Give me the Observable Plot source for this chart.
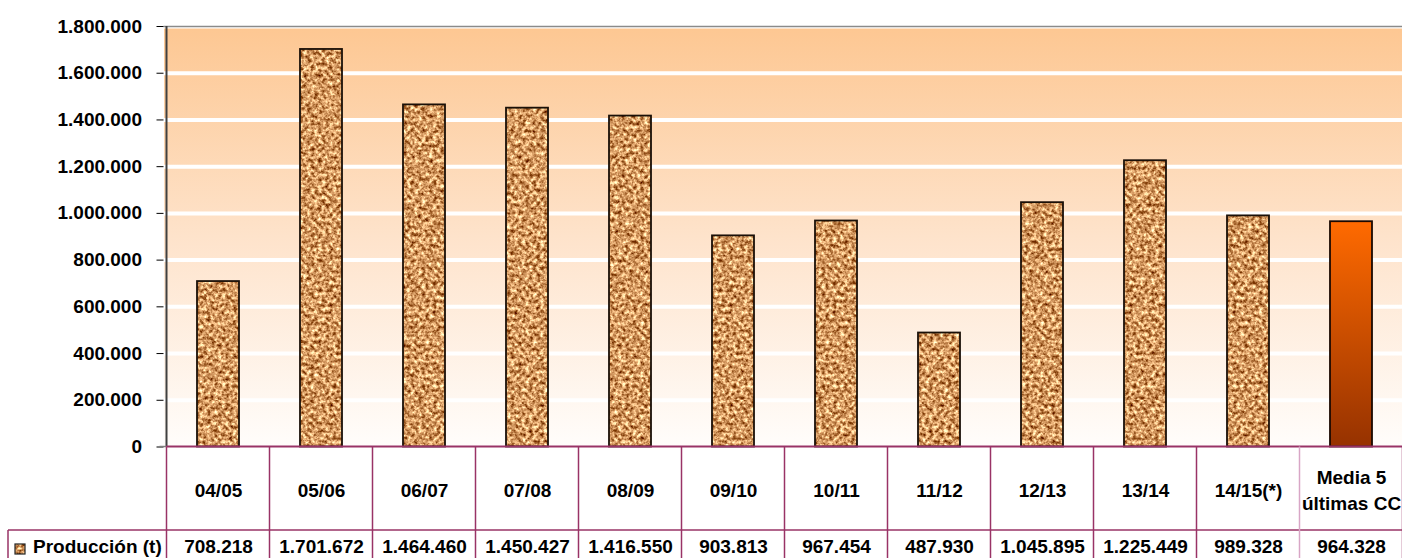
<!DOCTYPE html>
<html>
<head>
<meta charset="utf-8">
<script src="https://cdn.jsdelivr.net/npm/d3@7"></script>
<script src="https://cdn.jsdelivr.net/npm/@observablehq/plot@0.6"></script>
<style>
  html, body { margin: 0; padding: 0; background: white; }
  #chart { width: 1402px; height: 558px; overflow: hidden; }
</style>
</head>
<body>
<div id="chart"></div>
<script>
// ---- data ----
const categories = ["04/05", "05/06", "06/07", "07/08", "08/09", "09/10", "10/11", "11/12", "12/13", "13/14", "14/15(*)", "Media 5\núltimas CC"];
const production = [708218, 1701672, 1464460, 1450427, 1416550, 903813, 967454, 487930, 1045895, 1225449, 989328, 964328];
const yTicks = [0, 200000, 400000, 600000, 800000, 1000000, 1200000, 1400000, 1600000, 1800000];
const rowLabel = "Producción (t)";

const fmt = d3.formatLocale({decimal: ",", thousands: ".", grouping: [3], currency: ["", "€"]}).format(",d");
const idx = d3.range(categories.length);
const avgIndex = categories.length - 1;

const FONT = "'Liberation Sans', Arial, Helvetica, sans-serif";
const FS = 19;
const PURPLE = "#993366";

function defsMark() {
  const g = document.createElementNS("http://www.w3.org/2000/svg", "g");
  g.innerHTML = `
  <defs>
    <linearGradient id="bg" x1="0" y1="0" x2="0" y2="1">
      <stop offset="0" stop-color="#FDC792"/>
      <stop offset="0.5" stop-color="#FEE3CB"/>
      <stop offset="1" stop-color="#FFFDFB"/>
    </linearGradient>
    <linearGradient id="orange" x1="0" y1="0" x2="0" y2="1">
      <stop offset="0" stop-color="#FF6A00"/>
      <stop offset="1" stop-color="#963200"/>
    </linearGradient>
    <filter id="corkNoise" x="0" y="0" width="100%" height="100%" color-interpolation-filters="sRGB">
      <feTurbulence type="fractalNoise" baseFrequency="0.27" numOctaves="3" seed="7" result="n"/>
      <feColorMatrix in="n" type="matrix"
        values="1.3 0 0 0 0.18
                1.45 0 0 0 -0.125
                1.4 0 0 0 -0.32
                0 0 0 0 1"/>
    </filter>
    <pattern id="cork" patternUnits="userSpaceOnUse" width="400" height="400">
      <rect width="400" height="400" fill="#D49C66" filter="url(#corkNoise)"/>
    </pattern>
  </defs>`;
  return g;
}

const plot = Plot.plot({
  width: 1402,
  height: 558,
  marginLeft: 163.5,
  marginRight: 0,
  marginTop: 26,
  marginBottom: 111.5,
  style: {fontFamily: FONT, fontSize: FS + "px", fontWeight: "bold", color: "black", background: "white", overflow: "visible"},
  x: {type: "band", domain: categories, range: [163.5, 163.5 + 12 * 103.6], paddingInner: 0.59, paddingOuter: 0.295, axis: null},
  y: {domain: [0, 1800000], axis: null},
  marks: [
    defsMark,
    Plot.frame({fill: "url(#bg)", stroke: "none"}),
    Plot.gridY(yTicks, {stroke: "white", strokeWidth: 4, strokeOpacity: 1}),
    Plot.ruleY([1800000], {stroke: "#8a8a8a", strokeWidth: 1.5}),
    Plot.axisY(yTicks, {tickSize: 7, tickPadding: 15, tickFormat: fmt, stroke: "black", strokeWidth: 1, fill: "black", fontSize: FS}),
    Plot.barY(idx.filter(i => i !== avgIndex), {x: i => categories[i], y: i => production[i], fill: "url(#cork)", stroke: "#1a1008", strokeWidth: 1.8}),
    Plot.barY([avgIndex], {x: i => categories[i], y: i => production[i], fill: "url(#orange)", stroke: "#1a0800", strokeWidth: 1.8}),
    Plot.text(categories, {x: d => d, frameAnchor: "bottom", dy: 41.5, text: d => d, lineAnchor: "middle", lineHeight: 1.4, fill: "black", fontSize: FS}),
    Plot.text(idx, {x: i => categories[i], frameAnchor: "bottom", dy: 100, text: i => fmt(production[i]), lineAnchor: "middle", fill: "black", fontSize: FS})
  ]
});

document.getElementById("chart").appendChild(plot);

// ---- data table grid, using Plot's scales ----
const sx = plot.scale("x");
const sy = plot.scale("y");
const step = sx.step ?? sx.bandwidth / (1 - 0.59);
const off = (step - sx.bandwidth) / 2;
const lefts = categories.map(c => sx.apply(c) - off);
const x0 = lefts[0];
const xEnd = lefts[lefts.length - 1] + step;
const yZero = sy.apply(0);
const yTop = sy.apply(1800000);
const yRow = yZero + 83.5;
const yBottom = 570;

const svg = d3.select(plot);
const g = svg.append("g");

// left axis line
g.append("line").attr("x1", x0).attr("x2", x0).attr("y1", yTop).attr("y2", yZero)
  .attr("stroke", "#404040").attr("stroke-width", 2);
// zero tick in gray
g.append("line").attr("x1", x0 - 7).attr("x2", x0).attr("y1", yZero).attr("y2", yZero)
  .attr("stroke", "#808080").attr("stroke-width", 1.5);

// horizontal table lines
g.append("line").attr("x1", x0).attr("x2", xEnd).attr("y1", yZero).attr("y2", yZero)
  .attr("stroke", PURPLE).attr("stroke-width", 2);
g.append("line").attr("x1", 8).attr("x2", xEnd).attr("y1", yRow).attr("y2", yRow)
  .attr("stroke", PURPLE).attr("stroke-width", 1.5);

// vertical table lines
lefts.concat([xEnd]).forEach((x, i) => {
  g.append("line").attr("x1", x).attr("x2", x).attr("y1", yZero).attr("y2", yBottom)
    .attr("stroke", i === avgIndex ? "#D8A6C6" : PURPLE).attr("stroke-width", 1.5);
});
g.append("line").attr("x1", 8).attr("x2", 8).attr("y1", yRow).attr("y2", yBottom)
  .attr("stroke", PURPLE).attr("stroke-width", 1.5);

// row label with legend swatch
g.append("rect").attr("x", 15).attr("y", yRow + 14).attr("width", 10).attr("height", 10)
  .attr("fill", "url(#cork)").attr("stroke", "#222").attr("stroke-width", 1.2);
g.append("text").attr("x", 33).attr("y", yRow + 16.5).attr("dominant-baseline", "central")
  .attr("text-anchor", "start")
  .attr("font-family", FONT).attr("font-size", FS).attr("font-weight", "bold").attr("fill", "black")
  .text(rowLabel);
</script>
</body>
</html>
